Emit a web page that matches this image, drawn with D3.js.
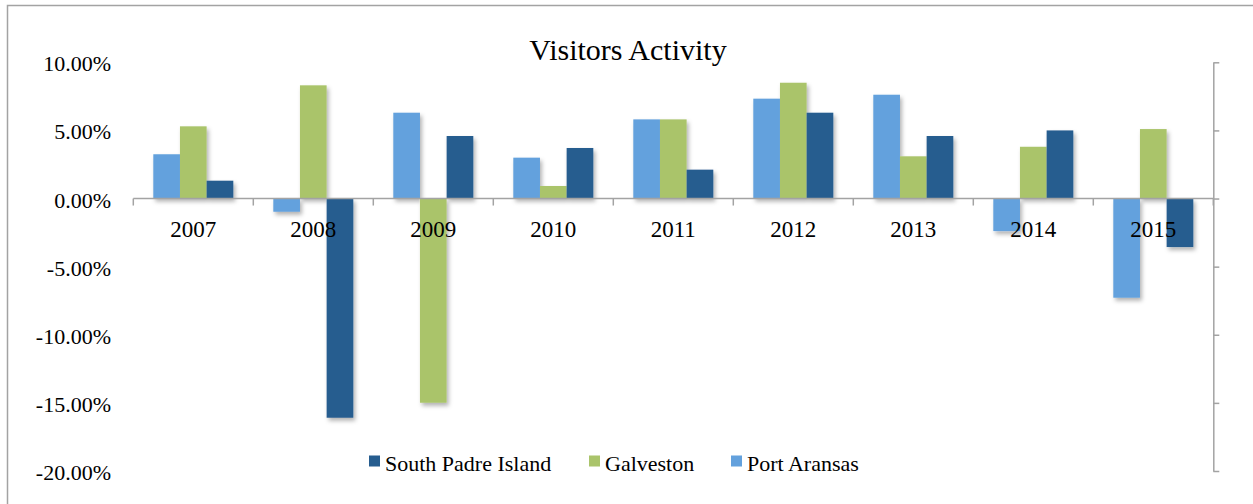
<!DOCTYPE html>
<html>
<head>
<meta charset="utf-8">
<script src="https://cdn.jsdelivr.net/npm/d3@7"></script>
<style>
  html, body { margin: 0; padding: 0; background: #fff; }
  svg { display: block; }
  svg text { font-family: "Liberation Serif", "Times New Roman", serif; }
</style>
</head>
<body>
<svg id="chart" width="1253" height="504"></svg>
<script>
// Year-over-year change in visitors (%), by destination
const years = ["2007", "2008", "2009", "2010", "2011", "2012", "2013", "2014", "2015"];
const portAransas = [3.25, -0.97, 6.30, 3.00, 5.81, 7.33, 7.62, -2.39, -7.28];
const galveston = [5.30, 8.31, -14.99, 0.92, 5.81, 8.50, 3.10, 3.80, 5.10];
const southPadre = [1.31, -16.09, 4.59, 3.71, 2.12, 6.30, 4.59, 5.00, -3.56];
const yTicks = [10, 5, 0, -5, -10, -15, -20];
const seriesNames = ["Port Aransas", "Galveston", "South Padre Island"];
const legendOrder = ["South Padre Island", "Galveston", "Port Aransas"];

const colors = {
  "Port Aransas": "#63A1DD",
  "Galveston": "#AAC46B",
  "South Padre Island": "#265D8F"
};
const valuesBySeries = {
  "Port Aransas": portAransas,
  "Galveston": galveston,
  "South Padre Island": southPadre
};

const svg = d3.select("#chart");
const axisGray = "#a3a3a3";
const serif = "'Liberation Serif', 'Times New Roman', serif";

// drop shadow for bars
const defs = svg.append("defs");
const shadow = defs.append("filter").attr("id", "barShadow")
  .attr("x", "-30%").attr("y", "-30%").attr("width", "160%").attr("height", "160%");
shadow.append("feDropShadow")
  .attr("dx", 2).attr("dy", 3).attr("stdDeviation", 2)
  .attr("flood-color", "#000").attr("flood-opacity", 0.3);

// outer frame (top and left edges visible)
svg.append("path")
  .attr("d", "M7.5,504 L7.5,5.5 L1253,5.5")
  .attr("fill", "none").attr("stroke", axisGray).attr("stroke-width", 1.5);

const plotLeft = 133.3, plotRight = 1213.3;
const x = d3.scaleBand().domain(years).range([plotLeft, plotRight])
  .paddingInner(1 / 3).paddingOuter(1 / 6);
const xs = d3.scaleBand().domain(seriesNames).range([0, x.bandwidth()]);
const y = d3.scaleLinear().domain([-20, 10]).range([471, 62.3]);

// title
svg.append("text")
  .attr("x", 628).attr("y", 60)
  .attr("text-anchor", "middle")
  .attr("font-family", serif)
  .attr("font-size", 30)
  .attr("fill", "#000")
  .text("Visitors Activity");

// y tick labels on the left (plain hyphen for negatives)
svg.append("g").selectAll("text").data(yTicks).join("text")
  .attr("x", 111)
  .attr("y", d => y(d) + 1.5)
  .attr("dominant-baseline", "central")
  .attr("text-anchor", "end")
  .attr("font-family", serif)
  .attr("font-size", 22)
  .attr("fill", "#000")
  .text(d => d3.format(".2f")(d).replace("\u2212", "-") + "%");

// bars
const barData = [];
years.forEach((yr, i) => {
  seriesNames.forEach(s => barData.push({ year: yr, series: s, value: valuesBySeries[s][i] }));
});
svg.append("g").attr("filter", "url(#barShadow)")
  .selectAll("rect").data(barData).join("rect")
  .attr("x", d => x(d.year) + xs(d.series))
  .attr("width", xs.bandwidth())
  .attr("y", d => y(Math.max(0, d.value)))
  .attr("height", d => Math.abs(y(d.value) - y(0)))
  .attr("fill", d => colors[d.series]);

// category axis along zero
const gx = svg.append("g").attr("transform", `translate(0,${y(0)})`);
gx.append("line")
  .attr("x1", plotLeft).attr("x2", plotRight)
  .attr("stroke", axisGray).attr("stroke-width", 1.5);
// tick marks between categories
const boundaries = years.map((yr, i) => plotLeft + i * x.step()).concat([plotRight]);
gx.selectAll(".boundary").data(boundaries).join("line")
  .attr("class", "boundary")
  .attr("x1", d => d).attr("x2", d => d)
  .attr("y1", 0).attr("y2", 7)
  .attr("stroke", axisGray).attr("stroke-width", 1.5);

// category labels
svg.append("g").selectAll("text").data(years).join("text")
  .attr("x", d => x(d) + x.bandwidth() / 2)
  .attr("y", 237)
  .attr("text-anchor", "middle")
  .attr("font-family", serif)
  .attr("font-size", 23)
  .attr("fill", "#000")
  .text(d => d);

// value axis on the right, no labels
const yAxis = d3.axisRight(y).tickValues(yTicks).tickSize(6).tickSizeOuter(0).tickFormat("");
const gy = svg.append("g").attr("transform", `translate(${plotRight},0)`).call(yAxis);
gy.select(".domain").attr("stroke", axisGray).attr("stroke-width", 1.5);
gy.selectAll(".tick line").attr("stroke", axisGray).attr("stroke-width", 1.5);

// legend
const legendX = [369, 589, 731];
const legend = svg.append("g").selectAll("g").data(legendOrder).join("g")
  .attr("transform", (d, i) => `translate(${legendX[i]},455.5)`);
legend.append("rect")
  .attr("width", 11).attr("height", 11)
  .attr("fill", d => colors[d]);
legend.append("text")
  .attr("x", 16).attr("y", 15)
  .attr("font-family", serif)
  .attr("font-size", 22)
  .attr("fill", "#000")
  .text(d => d);
</script>
</body>
</html>
